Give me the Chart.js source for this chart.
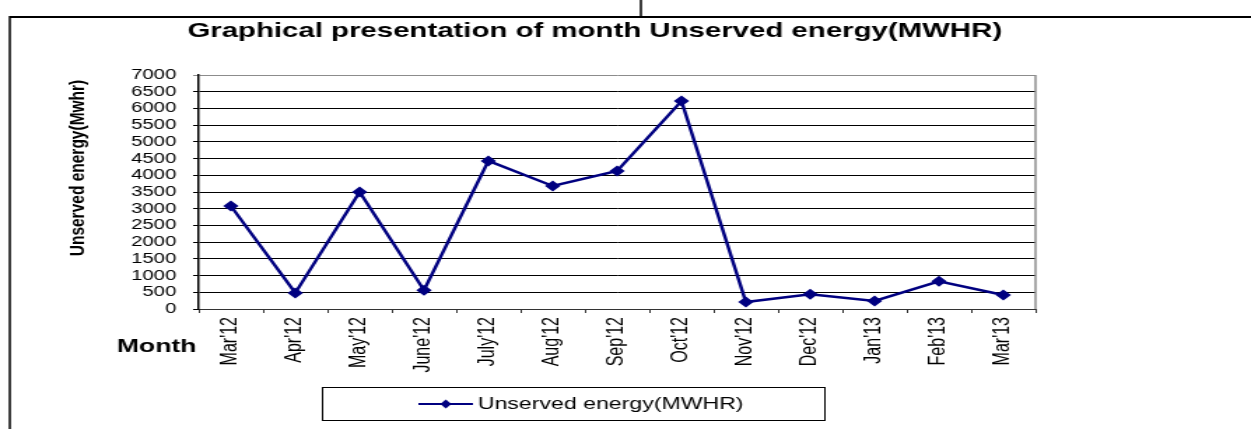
<!DOCTYPE html>
<html>
<head>
<meta charset="utf-8">
<script src="https://cdn.jsdelivr.net/npm/chart.js@4.4.1/dist/chart.umd.min.js"></script>
<style>
    html, body { margin: 0; padding: 0; background: #fff; overflow: hidden; }
    #chart { display: block; width: 1251px !important; height: 429px !important; }
</style>
</head>
<body>
<canvas id="chart" width="894" height="429" style="width:1251px;height:429px"></canvas>
<script>
var months = ["Mar'12", "Apr'12", "May'12", "June'12", "July'12", "Aug'12", "Sep'12",
    "Oct'12", "Nov'12", "Dec'12", "Jan'13", "Feb'13", "Mar'13"];
var unservedEnergy = [3080, 480, 3500, 560, 4430, 3680, 4130, 6220, 210, 440, 240, 830, 420];
var yMin = 0, yMax = 7000, yStep = 500;

var chartTitle = 'Graphical presentation of month Unserved energy(MWHR)';
var yTitle = 'Unserved energy(Mwhr)';
var xTitle = 'Month';
var seriesName = 'Unserved energy(MWHR)';

var FONT = '"Liberation Sans", Arial, sans-serif';
var NAVY = '#000080';

// canvas is drawn narrow and stretched by css, like the original picture
var decor = {
    id: 'decor',
    afterDraw: function (chart) {
        var ctx = chart.ctx,
            area = chart.chartArea,
            ds = chart.data.datasets[0];

        ctx.save();

        // outer frame
        ctx.strokeStyle = '#000';
        ctx.lineWidth = 2;
        ctx.beginPath();
        ctx.moveTo(7, 17);
        ctx.lineTo(chart.width, 17);
        ctx.stroke();
        ctx.lineWidth = 1.5;
        ctx.beginPath();
        ctx.moveTo(7, 16);
        ctx.lineTo(7, chart.height);
        ctx.moveTo(458, 0);
        ctx.lineTo(458, 17);
        ctx.stroke();

        // plot area right border
        ctx.strokeStyle = '#8c8c8c';
        ctx.lineWidth = 1.5;
        ctx.beginPath();
        ctx.moveTo(area.right, area.top);
        ctx.lineTo(area.right, area.bottom);
        ctx.stroke();

        // title
        ctx.fillStyle = '#000';
        ctx.textAlign = 'center';
        ctx.textBaseline = 'alphabetic';
        ctx.font = 'bold 21px ' + FONT;
        ctx.fillText(chartTitle, 425, 37);

        // y axis title
        ctx.save();
        ctx.translate(56, 168);
        ctx.rotate(-Math.PI / 2);
        ctx.textBaseline = 'middle';
        ctx.font = 'bold 15.5px ' + FONT;
        ctx.fillText(yTitle, 0, 0);
        ctx.restore();

        // x axis title
        ctx.textAlign = 'left';
        ctx.font = 'bold 19px ' + FONT;
        ctx.fillText(xTitle, 83.5, 352);

        // legend box
        ctx.strokeStyle = '#000';
        ctx.lineWidth = 1;
        ctx.strokeRect(230.5, 387.5, 359, 33);
        ctx.strokeStyle = ds.borderColor;
        ctx.lineWidth = 2;
        ctx.beginPath();
        ctx.moveTo(299, 404);
        ctx.lineTo(338, 404);
        ctx.stroke();
        ctx.fillStyle = ds.pointBackgroundColor;
        ctx.beginPath();
        ctx.moveTo(318.6, 399.5);
        ctx.lineTo(322.6, 404);
        ctx.lineTo(318.6, 408.5);
        ctx.lineTo(314.6, 404);
        ctx.closePath();
        ctx.fill();
        ctx.fillStyle = '#000';
        ctx.textBaseline = 'middle';
        ctx.font = '16.5px ' + FONT;
        ctx.fillText(ds.label, 341.5, 404);

        ctx.restore();
    }
};

new Chart(document.getElementById('chart'), {
    type: 'line',
    plugins: [decor],
    data: {
        labels: months,
        datasets: [{
            label: seriesName,
            data: unservedEnergy,
            borderColor: NAVY,
            backgroundColor: NAVY,
            pointBackgroundColor: NAVY,
            pointBorderColor: NAVY,
            borderWidth: 2.5,
            pointStyle: 'rectRot',
            pointRadius: 5.5,
            pointBorderWidth: 0,
            tension: 0
        }]
    },
    options: {
        responsive: false,
        animation: false,
        devicePixelRatio: 1,
        layout: {
            autoPadding: false,
            padding: { top: 75, left: 0, right: 154, bottom: 0 }
        },
        plugins: {
            legend: { display: false },
            title: { display: false },
            tooltip: { enabled: false }
        },
        scales: {
            x: {
                offset: true,
                afterFit: function (s) { s.height = 120; },
                border: { color: '#333', width: 1 },
                grid: { drawOnChartArea: false, drawTicks: true, tickLength: 4, color: '#333', offset: true },
                ticks: {
                    autoSkip: false,
                    maxRotation: 90,
                    minRotation: 90,
                    padding: 4,
                    color: '#000',
                    font: { family: FONT, size: 16 }
                }
            },
            y: {
                min: yMin,
                max: yMax,
                afterFit: function (s) { s.width = 142; },
                border: { color: '#000', width: 1.5 },
                grid: {
                    color: function (c) { return c.tick && c.tick.value === yMax ? '#8c8c8c' : '#000'; },
                    lineWidth: 1,
                    tickLength: 4
                },
                ticks: {
                    stepSize: yStep,
                    autoSkip: false,
                    padding: 12,
                    color: '#000',
                    font: { family: FONT, size: 14.5 },
                    callback: function (v) { return String(v); }
                }
            }
        }
    }
});
</script>
</body>
</html>
